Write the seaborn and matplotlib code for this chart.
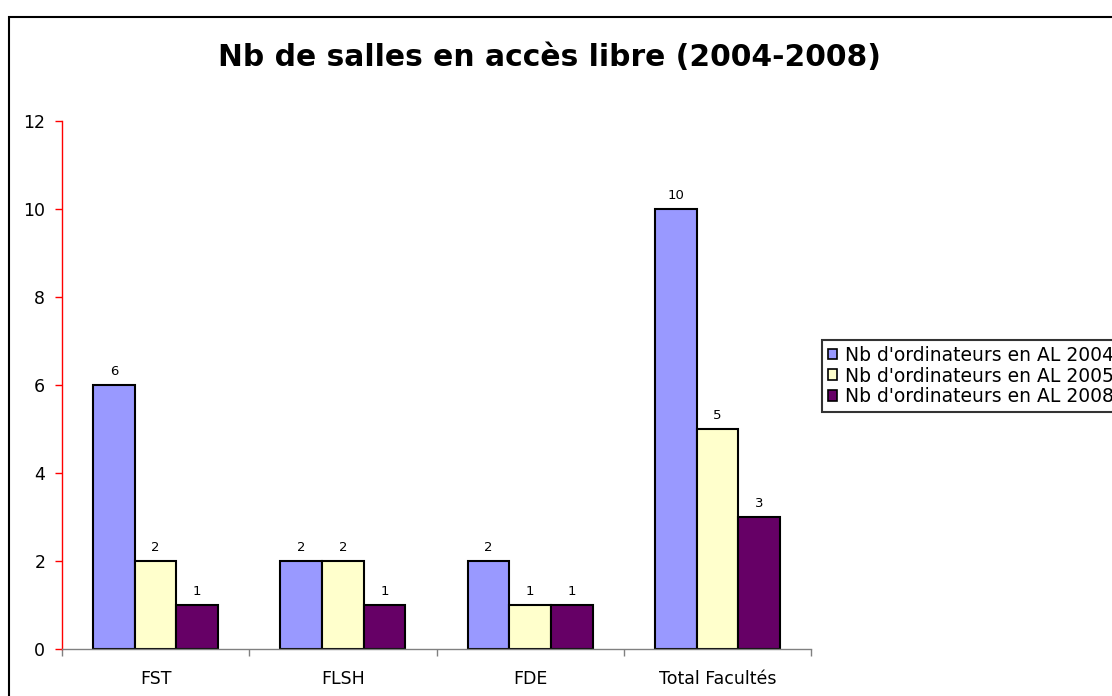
import pandas as pd
import matplotlib
matplotlib.use("Agg")
import matplotlib.pyplot as plt
import matplotlib.patches as mpatches
import seaborn as sns

# Data
facultes = ["FST", "FLSH", "FDE", "Total Facultés"]
series = ["Nb d'ordinateurs en AL 2004", "Nb d'ordinateurs en AL 2005", "Nb d'ordinateurs en AL 2008"]
al_2004 = [6, 2, 2, 10]
al_2005 = [2, 2, 1, 5]
al_2008 = [1, 1, 1, 3]
colors = ["#9999FF", "#FFFFCC", "#660066"]

df = pd.DataFrame({
    "faculte": facultes * 3,
    "serie": [series[0]] * 4 + [series[1]] * 4 + [series[2]] * 4,
    "valeur": al_2004 + al_2005 + al_2008,
})

sns.set_style("white")
plt.rcParams["font.family"] = ["DejaVu Sans"]
plt.rcParams["text.color"] = "black"
plt.rcParams["xtick.labelcolor"] = "black"
plt.rcParams["ytick.labelcolor"] = "black"

fig = plt.figure(figsize=(11.12, 6.96), dpi=100)
ax = fig.add_axes([62 / 1112, 1 - 649 / 696, (811 - 62) / 1112, (649 - 121) / 696])

sns.barplot(data=df, x="faculte", y="valeur", hue="serie", order=facultes,
            hue_order=series, palette=colors, width=0.667, gap=0,
            edgecolor="black", linewidth=1.5, saturation=1, ax=ax, legend=False)

for cont in ax.containers:
    ax.bar_label(cont, fontsize=9.5, padding=5, color="black")

ax.set_ylim(0, 12)
ax.set_xlim(-0.5, 3.5)
ax.set_yticks(range(0, 13, 2))
ax.set_xlabel("")
ax.set_ylabel("")

# axes styling
for s in ["top", "right"]:
    ax.spines[s].set_visible(False)
ax.spines["left"].set_color("red")
ax.spines["left"].set_linewidth(1)
ax.spines["bottom"].set_color("#808080")
ax.spines["bottom"].set_linewidth(1)
ax.tick_params(axis="y", colors="red", labelcolor="black", length=5, width=1,
               direction="out", left=True, labelsize=12.5, pad=7)
ax.tick_params(axis="x", which="major", length=0, labelsize=12.5, pad=15,
               labelcolor="black")
ax.set_xticks([-0.5, 0.5, 1.5, 2.5, 3.5], minor=True)
ax.tick_params(axis="x", which="minor", length=5, width=1, color="#808080",
               direction="out", bottom=True)

fig.text(0.494, 1 - 58 / 696, "Nb de salles en accès libre (2004-2008)",
         ha="center", va="center", fontsize=21.4, fontweight="bold", color="black")

# legend
handles = [mpatches.Patch(facecolor=c, edgecolor="black", linewidth=1.2) for c in colors]
leg = fig.legend(handles, series, loc="upper left",
                 bbox_to_anchor=(822 / 1112, 1 - 340 / 696),
                 fontsize=13.5, frameon=True, fancybox=False,
                 handlelength=0.52, handleheight=0.52, handletextpad=0.4,
                 labelspacing=0.1, borderpad=0.3, borderaxespad=0)
leg.get_frame().set_edgecolor("black")
leg.get_frame().set_linewidth(1.5)
for t in leg.get_texts():
    t.set_color("black")

# outer chart border, cut off at right and bottom
border = mpatches.Rectangle((9 / 1112, -0.1), 1.2, 1 - 17 / 696 + 0.1,
                            transform=fig.transFigure, fill=False,
                            edgecolor="black", linewidth=1.5, clip_on=False)
fig.patches.append(border)

fig.savefig("out.png", dpi=100)
